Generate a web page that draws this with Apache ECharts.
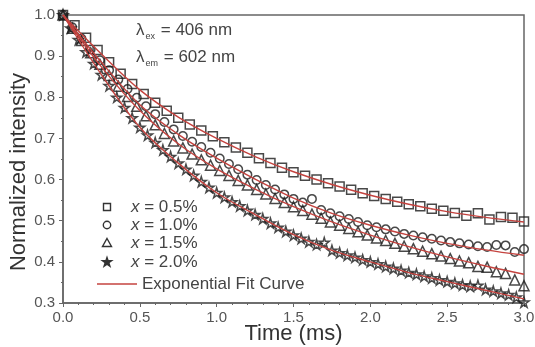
<!DOCTYPE html>
<html><head><meta charset="utf-8">
<script src="https://cdn.jsdelivr.net/npm/echarts@6/dist/echarts.min.js"></script>
<style>html,body{margin:0;padding:0;background:#fff}#c{width:535px;height:347px}</style>
</head><body><div id="c"></div>
<script>
var xTicks = ['0.0','0.5','1.0','1.5','2.0','2.5','3.0'];
var yTicks = ['0.3','0.4','0.5','0.6','0.7','0.8','0.9','1.0'];
var seriesNames = ['x = 0.5%','x = 1.0%','x = 1.5%','x = 2.0%'];
var fitName = 'Exponential Fit Curve';
var xTitle = 'Time (ms)';
var yTitle = 'Normalized intensity';

var tSq = [0,0.075,0.15,0.225,0.3,0.375,0.45,0.525,0.6,0.675,0.75,0.825,0.9,0.975,1.05,1.125,1.2,1.275,1.35,1.425,1.5,1.575,1.65,1.725,1.8,1.875,1.95,2.025,2.1,2.175,2.25,2.325,2.4,2.475,2.55,2.625,2.7,2.775,2.85,2.925,3.0];
var vSq = [1.000,0.975,0.945,0.915,0.885,0.857,0.832,0.808,0.787,0.767,0.750,0.734,0.719,0.705,0.691,0.678,0.665,0.652,0.640,0.629,0.618,0.609,0.600,0.591,0.583,0.575,0.567,0.560,0.553,0.546,0.540,0.535,0.529,0.524,0.519,0.512,0.518,0.503,0.509,0.507,0.498];

var tCi = [0,0.06,0.12,0.18,0.24,0.30,0.36,0.42,0.48,0.54,0.60,0.66,0.72,0.78,0.84,0.90,0.96,1.02,1.08,1.14,1.20,1.26,1.32,1.38,1.44,1.50,1.56,1.62,1.68,1.74,1.80,1.86,1.92,1.98,2.04,2.10,2.16,2.22,2.28,2.34,2.40,2.46,2.52,2.58,2.64,2.70,2.76,2.82,2.88,2.94,3.00];
var vCi = [1.000,0.970,0.943,0.916,0.890,0.866,0.843,0.820,0.799,0.778,0.759,0.740,0.722,0.706,0.692,0.679,0.665,0.651,0.638,0.625,0.612,0.599,0.587,0.576,0.564,0.553,0.544,0.553,0.526,0.518,0.511,0.504,0.497,0.489,0.484,0.479,0.474,0.468,0.464,0.460,0.456,0.452,0.448,0.445,0.442,0.438,0.436,0.441,0.440,0.424,0.431];

var tTr = [0,0.06,0.12,0.18,0.24,0.30,0.36,0.42,0.48,0.54,0.60,0.66,0.72,0.78,0.84,0.90,0.96,1.02,1.08,1.14,1.20,1.26,1.32,1.38,1.44,1.50,1.56,1.62,1.68,1.74,1.80,1.86,1.92,1.98,2.04,2.10,2.16,2.22,2.28,2.34,2.40,2.46,2.52,2.58,2.64,2.70,2.76,2.82,2.88,2.94,3.00];
var vTr = [1.000,0.968,0.938,0.908,0.880,0.853,0.827,0.802,0.778,0.755,0.733,0.712,0.694,0.677,0.662,0.648,0.635,0.622,0.610,0.598,0.587,0.576,0.565,0.554,0.544,0.534,0.525,0.516,0.506,0.497,0.489,0.481,0.473,0.465,0.458,0.452,0.445,0.438,0.432,0.426,0.420,0.414,0.408,0.402,0.398,0.389,0.387,0.376,0.372,0.356,0.342];

var tSt = [0,0.05,0.10,0.15,0.20,0.25,0.30,0.35,0.40,0.45,0.50,0.55,0.60,0.65,0.70,0.75,0.80,0.85,0.90,0.95,1.00,1.05,1.10,1.15,1.20,1.25,1.30,1.35,1.40,1.45,1.50,1.55,1.60,1.65,1.70,1.75,1.80,1.85,1.90,1.95,2.00,2.05,2.10,2.15,2.20,2.25,2.30,2.35,2.40,2.45,2.50,2.55,2.60,2.65,2.70,2.75,2.80,2.85,2.90,2.95,3.00];
var vSt = [1.000,0.968,0.940,0.910,0.882,0.855,0.828,0.800,0.775,0.750,0.727,0.708,0.690,0.672,0.656,0.640,0.625,0.610,0.595,0.581,0.568,0.557,0.546,0.536,0.525,0.515,0.505,0.494,0.484,0.474,0.465,0.457,0.449,0.442,0.447,0.428,0.422,0.416,0.411,0.405,0.400,0.395,0.389,0.384,0.379,0.374,0.370,0.365,0.361,0.356,0.352,0.348,0.344,0.341,0.343,0.333,0.329,0.324,0.320,0.314,0.302];

var tFit = [0,0.25,0.5,0.75,1.0,1.25,1.5,1.75,2.0,2.25,2.5,2.75,3.0];
var fitSq = [1.0,0.905,0.818,0.752,0.700,0.656,0.619,0.588,0.562,0.540,0.522,0.508,0.497];
var fitCi = [1.0,0.885,0.782,0.710,0.652,0.601,0.555,0.518,0.489,0.465,0.445,0.429,0.416];
var fitTr = [1.0,0.874,0.768,0.687,0.626,0.577,0.534,0.497,0.465,0.437,0.412,0.390,0.370];
var fitSt = [1.0,0.855,0.727,0.640,0.568,0.515,0.466,0.428,0.400,0.374,0.352,0.331,0.310];

var STAR = 'path://M50,0 L61,35 L98,35 L68,57 L79,91 L50,70 L21,91 L32,57 L2,35 L39,35 Z';
var RED = '#c4433f';
var MK = '#1a1a1a';
function pairs(t, v){ return t.map(function(x,i){ return [x, v[i]]; }); }

var scatterDefs = [
  {t:tSq, v:vSq, sym:'rect', size:9},
  {t:tCi, v:vCi, sym:'circle', size:8.5},
  {t:tTr, v:vTr, sym:'triangle', size:10},
  {t:tSt, v:vSt, sym:STAR, size:10}
];
var fits = [fitSq, fitCi, fitTr, fitSt];

var series = [];
scatterDefs.forEach(function(d, i){
  series.push({
    name: seriesNames[i], type:'scatter', data: pairs(d.t, d.v),
    symbol: d.sym, symbolSize: d.size, z: 2,
    itemStyle:{color:'rgba(0,0,0,0)', borderColor: MK, borderWidth:1.5}
  });
});
fits.forEach(function(f){
  series.push({
    name: fitName, type:'line', data: pairs(tFit, f), smooth: 0.35,
    showSymbol:false, z: 3, lineStyle:{color:RED, width:1.4}
  });
});

var FONT = 'Liberation Sans, Arial, sans-serif';
var graphics = [];
var legY = [207, 225, 243, 262];
var legSym = [
  {type:'rect', shape:{x:-3.5,y:-3.5,width:7,height:7}},
  {type:'circle', shape:{cx:0,cy:0,r:3.7}},
  {type:'polygon', shape:{points:[[0,-4.5],[4.5,3.5],[-4.5,3.5]]}},
  {type:'polygon', shape:{points:[[0,-4.5],[1.1,-1.3],[4.6,-1.3],[1.8,0.8],[2.9,4.2],[0,2.1],[-2.9,4.2],[-1.8,0.8],[-4.6,-1.3],[-1.1,-1.3]]}}
];
legY.forEach(function(y, i){
  var s = legSym[i];
  graphics.push({type:s.type, shape:s.shape, x:107, y:y, style:{fill: i===3 ? '#333' : 'none', stroke:'#333', lineWidth:1.4}});
  graphics.push({type:'text', x:131, y:y, style:{
    text:'{i|x} = ' + seriesNames[i].slice(4), verticalAlign:'middle',
    font:'17px ' + FONT, fill:'#444',
    rich:{i:{fontStyle:'italic', fontSize:17, fontFamily:FONT, fill:'#444'}}
  }});
});
graphics.push({type:'line', shape:{x1:97,y1:284,x2:137,y2:284}, style:{stroke:RED, lineWidth:1.4}});
graphics.push({type:'text', x:142, y:284, style:{text:fitName, verticalAlign:'middle', font:'17px ' + FONT, fill:'#444'}});
graphics.push({type:'text', x:136, y:30, style:{
  text:'λ{s|ex} = 406 nm', verticalAlign:'middle', font:'17px ' + FONT, fill:'#444',
  rich:{s:{fontSize:9, fill:'#444', padding:[13,1,0,1]}}
}});
graphics.push({type:'text', x:136, y:57, style:{
  text:'λ{s|em} = 602 nm', verticalAlign:'middle', font:'17px ' + FONT, fill:'#444',
  rich:{s:{fontSize:9, fill:'#444', padding:[13,1,0,1]}}
}});
graphics.push({type:'text', x:19, y:172, rotation:Math.PI/2, style:{
  text:yTitle, align:'center', verticalAlign:'middle', font:'22px ' + FONT, fill:'#333'
}});

var chart = echarts.init(document.getElementById('c'));
chart.setOption({
  animation:false,
  backgroundColor:'#fff',
  grid:{left:63, right:11, top:15, bottom:44, containLabel:false, outerBoundsMode:'none',
    show:true, borderColor:'#666', borderWidth:1.5},
  xAxis:{type:'value', min:0, max:3, interval:0.5,
    name:xTitle, nameLocation:'middle', nameGap:20, nameMoveOverlap:false,
    nameTextStyle:{fontSize:22, color:'#333', fontFamily:FONT},
    axisLine:{lineStyle:{color:'#666', width:1.5}},
    axisTick:{inside:false, length:4, lineStyle:{color:'#666'}},
    minorTick:{show:true, splitNumber:5, length:2, lineStyle:{color:'#666'}},
    axisLabel:{color:'#555', fontSize:15, fontFamily:FONT, margin:7,
      formatter:function(v){ var i = Math.round(v/0.5); return xTicks[i]; }},
    splitLine:{show:false}},
  yAxis:{type:'value', min:0.3, max:1.0, interval:0.1,
    axisLine:{show:true, lineStyle:{color:'#666', width:1.5}},
    axisTick:{show:true, length:4, lineStyle:{color:'#666'}},
    minorTick:{show:true, splitNumber:2, length:2, lineStyle:{color:'#666'}},
    axisLabel:{color:'#555', fontSize:15, fontFamily:FONT, margin:8,
      formatter:function(v){ var i = Math.round((v-0.3)/0.1); return yTicks[i]; }},
    splitLine:{show:false}},
  series: series,
  graphic: graphics
});
</script></body></html>
